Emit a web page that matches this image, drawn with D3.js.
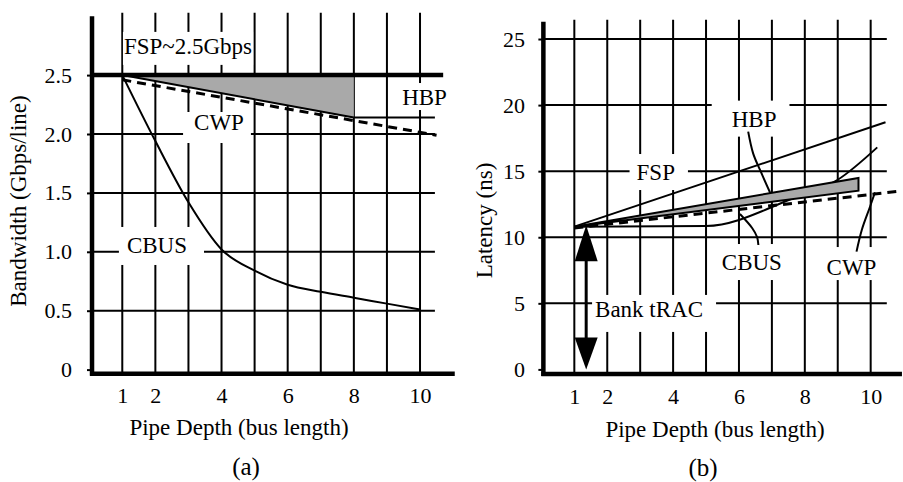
<!DOCTYPE html>
<html>
<head>
<meta charset="utf-8">
<script src="https://cdn.jsdelivr.net/npm/d3@7"></script>
<style>
  body { margin: 0; background: #fff; }
  text { font-family: "Liberation Serif", "Times New Roman", serif; fill: #000; }
</style>
</head>
<body>
<svg id="chart" width="903" height="482"></svg>
<script>
// ---- data (a): bandwidth vs pipe depth
const depthTicks = [1, 2, 4, 6, 8, 10];
const gridDepths = [1, 2, 3, 4, 5, 6, 7, 8, 9, 10];
const bwTicks = [0, 0.5, 1.0, 1.5, 2.0, 2.5];
const bwTickLabels = ["0", "0.5", "1.0", "1.5", "2.0", "2.5"];

const cbusDepth = [1, 2, 3, 4, 5, 6, 7, 8, 9, 10];
const cbusBw = [2.5, 1.94, 1.42, 1.02, 0.84, 0.72, 0.66, 0.61, 0.56, 0.51];
const fspDepth = [0.1, 10.7];
const fspBw = [2.5, 2.5];
const hbpDepth = [1, 8, 10.45];
const hbpBw = [2.5, 2.14, 2.14];
const cwpDepth = [1, 10.5];
const cwpBw = [2.46, 1.99];

// ---- data (b): latency vs pipe depth
const latTicks = [0, 5, 10, 15, 20, 25];
const fspLatDepth = [1, 10.45];
const fspLat = [10.8, 18.7];
const hbpLatDepth = [1, 9.63];
const hbpLatHigh = [10.8, 14.48];
const hbpLatLow = [10.8, 13.52];
const cbusLatDepth = [1, 5, 7.65, 9, 10.2];
const cbusLat = [10.8, 10.85, 12.95, 14.35, 16.8];
const cwpLatDepth = [1, 10.94];
const cwpLat = [10.7, 13.5];
const tracDepth = 1.36;
const tracLat = [0, 10.75];

// labels: position in data units, pad = white box [left, right, top, bottom]
const labelsA = [
  {t: "FSP~2.5Gbps", x: 1.05, y: 2.68, pad: [1, 1, 2, 6]},
  {t: "HBP", x: 9.46, y: 2.246, pad: [2, 2, 2, 0]},
  {t: "CWP", x: 3.17, y: 2.034, pad: [11, 7, -2, 8]},
  {t: "CBUS", x: 1.14, y: 0.99, pad: [8, 17, 6, 7]}
];
const labelsB = [
  {t: "HBP", x: 5.78, y: 18.37, pad: [20, 13, 6, 5]},
  {t: "FSP", x: 2.89, y: 14.33, pad: [7, 13, 6, 5]},
  {t: "CBUS", x: 5.48, y: 7.52, pad: [10, 9, 6, 5]},
  {t: "CWP", x: 8.66, y: 7.14, pad: [5, 5, 8, 0]},
  {t: "Bank tRAC", x: 1.63, y: 3.97, pad: [3, 13, 2, 10]}
];
const leadersB = [
  [[6.28, 17.99], [6.43, 16.35], [6.64, 15.09], [6.95, 13.35]],
  [[6.03, 11.76], [6.40, 10.7], [6.55, 10.02], [6.59, 9.41]],
  [[10.13, 13.4], [9.98, 12.31], [9.73, 10.55], [9.57, 8.91]]
];

const svg = d3.select("#chart");
svg.append("rect").attr("width", 903).attr("height", 482).attr("fill", "#fff");

const zip = (a, b) => a.map((v, i) => [v, b[i]]);

function panel(o) {
  const { x, y } = o;
  const g = svg.append("g");
  const gGrid = g.append("g"), gBox = g.append("g"), gData = g.append("g"), gText = g.append("g");

  // grid
  gGrid.selectAll(".vg").data(gridDepths).join("line")
    .attr("x1", d => x(d)).attr("x2", d => x(d))
    .attr("y1", y(o.gridTop)).attr("y2", y(o.axisY))
    .attr("stroke", "#000").attr("stroke-width", 2);
  gGrid.selectAll(".hg").data(o.yTicks.filter(d => d > 0)).join("line")
    .attr("x1", x(o.axisX)).attr("x2", x(o.gridRight))
    .attr("y1", d => y(d)).attr("y2", d => y(d))
    .attr("stroke", "#000").attr("stroke-width", 2);

  // axes lines
  gGrid.append("line")
    .attr("x1", x(o.axisX)).attr("x2", x(o.axisX))
    .attr("y1", y(o.yTop)).attr("y2", y(o.axisY) + 2)
    .attr("stroke", "#000").attr("stroke-width", 4.5);
  gGrid.append("line")
    .attr("x1", x(o.axisX) - 2).attr("x2", x(o.xEnd))
    .attr("y1", y(o.axisY)).attr("y2", y(o.axisY))
    .attr("stroke", "#000").attr("stroke-width", 4.5);

  // tick labels
  const ya = gGrid.append("g").attr("transform", `translate(${x(o.axisX)},0)`)
    .call(d3.axisLeft(y).tickValues(o.yTicks).tickFormat(o.yFormat).tickSize(5).tickPadding(o.yPad));
  ya.select(".domain").remove();
  ya.selectAll("line").attr("stroke-width", 2);
  ya.selectAll("text").attr("font-size", 22).attr("font-family", null);

  const xa = gGrid.append("g").attr("transform", `translate(0,${y(0)})`)
    .call(d3.axisBottom(x).tickValues(depthTicks).tickSize(0).tickPadding(o.xPad));
  xa.select(".domain").remove();
  xa.selectAll("text").attr("font-size", 22).attr("font-family", null);

  // titles
  g.append("text").attr("x", o.xTitle[0]).attr("y", o.xTitle[1])
    .attr("text-anchor", "middle").attr("font-size", 23).text("Pipe Depth (bus length)");
  g.append("text").attr("x", o.cap[0]).attr("y", o.cap[1])
    .attr("text-anchor", "middle").attr("font-size", 25).text(o.capText);
  g.append("text").attr("transform", `translate(${o.yTitle[0]},${o.yTitle[1]}) rotate(-90)`)
    .attr("text-anchor", "middle").attr("font-size", 23).text(o.yTitleText);

  // labels with white boxes behind
  o.labels.forEach(l => {
    const t = gText.append("text").attr("x", x(l.x)).attr("y", y(l.y))
      .attr("font-size", 23).text(l.t);
    const b = t.node().getBBox();
    gBox.append("rect")
      .attr("x", b.x - l.pad[0]).attr("y", b.y - l.pad[2])
      .attr("width", b.width + l.pad[0] + l.pad[1])
      .attr("height", b.height + l.pad[2] + l.pad[3])
      .attr("fill", "#fff");
  });
  return gData;
}

// ---------- (a)
const xA = d3.scaleLinear().domain([0, 11]).range([89.2, 453.1]);
const yA = d3.scaleLinear().domain([0, 3]).range([369.6, 16.2]);
const dA = panel({
  x: xA, y: yA, gridTop: 3.03, axisY: -0.035, axisX: 0.085, gridRight: 10.45,
  yTop: 3.0, xEnd: 11.05, yTicks: bwTicks, yFormat: (d, i) => bwTickLabels[i],
  yPad: 15, xPad: 17.8, xTitle: [239, 435], cap: [246, 475], capText: "(a)",
  yTitle: [26, 201], yTitleText: "Bandwidth (Gbps/line)", labels: labelsA
});
const lineA = d3.line().x(d => xA(d[0])).y(d => yA(d[1]));

// HBP wedge between FSP and HBP
const hbpPts = zip(hbpDepth, hbpBw);
dA.append("path")
  .attr("d", lineA([hbpPts[0], [hbpDepth[1], fspBw[0]], hbpPts[1]]) + "Z")
  .attr("fill", "#a9a9a9");
dA.append("path").attr("d", lineA(hbpPts.slice(0, 2)))
  .attr("fill", "none").attr("stroke", "#000").attr("stroke-width", 2);
dA.append("path").attr("d", lineA(hbpPts.slice(1)))
  .attr("fill", "none").attr("stroke", "#000").attr("stroke-width", 2);
dA.append("path").attr("d", lineA(zip(fspDepth, fspBw)))
  .attr("fill", "none").attr("stroke", "#000").attr("stroke-width", 4.5);
dA.append("path").attr("d", lineA(zip(cwpDepth, cwpBw)))
  .attr("fill", "none").attr("stroke", "#000").attr("stroke-width", 3)
  .attr("stroke-dasharray", "9,6");
dA.append("path").attr("d", lineA.curve(d3.curveMonotoneX)(zip(cbusDepth, cbusBw)))
  .attr("fill", "none").attr("stroke", "#000").attr("stroke-width", 2);

// ---------- (b)
const xB = d3.scaleLinear().domain([0, 11]).range([541.4, 903.6]);
const yB = d3.scaleLinear().domain([0, 26]).range([369.4, 25.8]);
const dB = panel({
  x: xB, y: yB, gridTop: 26.45, axisY: -0.35, axisX: 0.06, gridRight: 10.49,
  yTop: 26.3, xEnd: 10.95, yTicks: latTicks, yFormat: d3.format("d"),
  yPad: 13.4, xPad: 19, xTitle: [715, 436.7], cap: [703, 476], capText: "(b)",
  yTitle: [492, 220.5], yTitleText: "Latency (ns)", labels: labelsB
});
const lineB = d3.line().x(d => xB(d[0])).y(d => yB(d[1]));

dB.append("path").attr("d", lineB(zip(fspLatDepth, fspLat)))
  .attr("fill", "none").attr("stroke", "#000").attr("stroke-width", 2);
dB.append("path").attr("d", lineB(zip(cwpLatDepth, cwpLat)))
  .attr("fill", "none").attr("stroke", "#000").attr("stroke-width", 3)
  .attr("stroke-dasharray", "9,6");
dB.append("path").attr("d", lineB.curve(d3.curveMonotoneX)(zip(cbusLatDepth, cbusLat)))
  .attr("fill", "none").attr("stroke", "#000").attr("stroke-width", 2);
lineB.curve(d3.curveLinear);
const band = zip(hbpLatDepth, hbpLatHigh).concat(zip(hbpLatDepth, hbpLatLow).reverse());
dB.append("path").attr("d", lineB(band) + "Z")
  .attr("fill", "#a9a9a9").attr("stroke", "#000").attr("stroke-width", 2)
  .attr("stroke-linejoin", "miter");

// leader lines
dB.selectAll(".leader").data(leadersB).join("path")
  .attr("d", d3.line().x(d => xB(d[0])).y(d => yB(d[1])).curve(d3.curveCatmullRom))
  .attr("fill", "none").attr("stroke", "#000").attr("stroke-width", 2);

// Bank tRAC arrow
const ax = xB(tracDepth);
dB.append("line").attr("x1", ax).attr("x2", ax)
  .attr("y1", yB(tracLat[0]) - 20).attr("y2", yB(tracLat[1]) + 20)
  .attr("stroke", "#000").attr("stroke-width", 3);
dB.append("path")
  .attr("d", `M${ax},${yB(tracLat[1]) - 2}L${ax - 11.5},${yB(tracLat[1]) + 34}L${ax + 11.5},${yB(tracLat[1]) + 34}Z`)
  .attr("fill", "#000");
dB.append("path")
  .attr("d", `M${ax},${yB(tracLat[0])}L${ax - 11.5},${yB(tracLat[0]) - 32}L${ax + 11.5},${yB(tracLat[0]) - 32}Z`)
  .attr("fill", "#000");
</script>
</body>
</html>
